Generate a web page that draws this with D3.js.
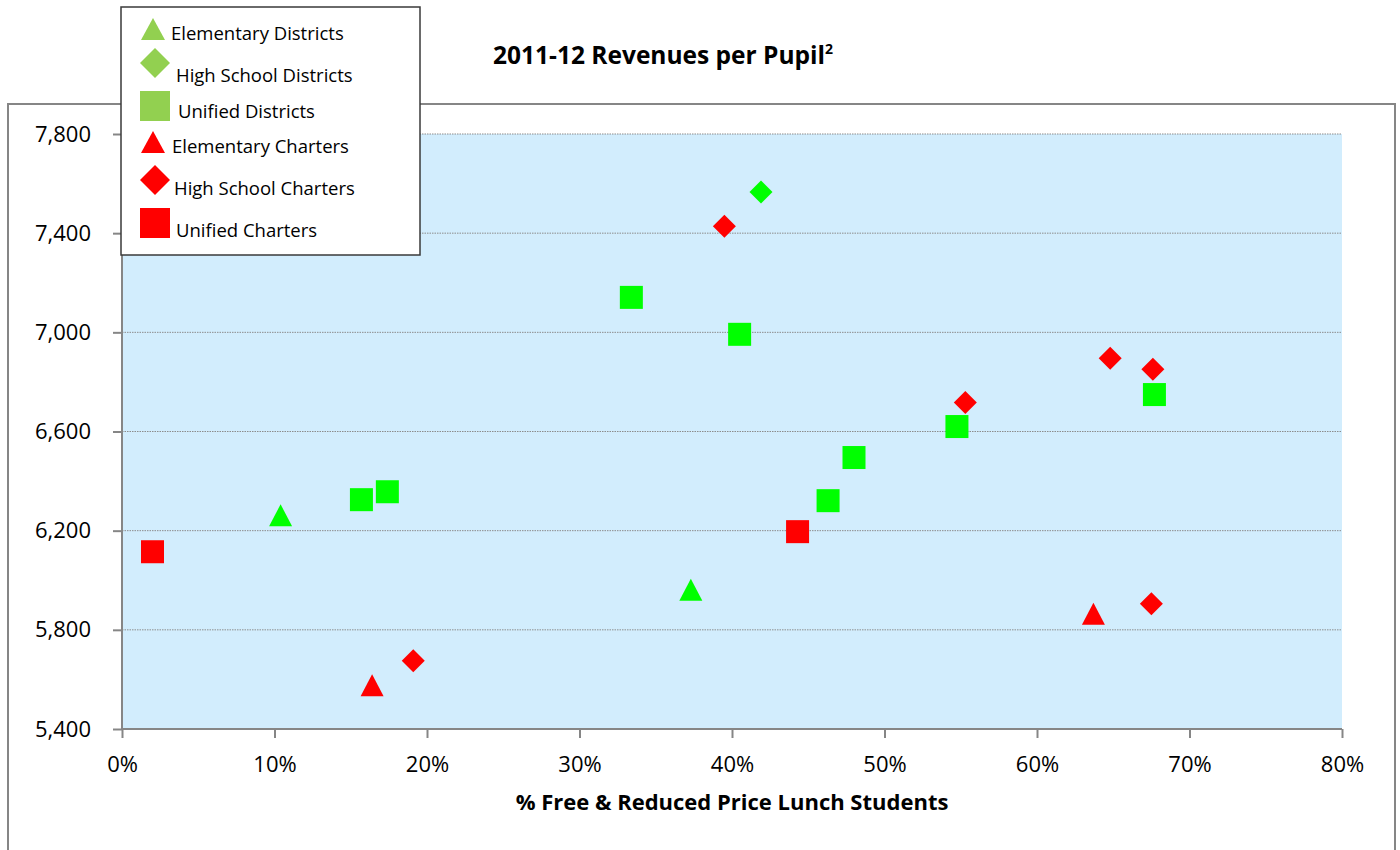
<!DOCTYPE html>
<html lang="en">
<head>
    <meta charset="UTF-8">
    <script src="https://d3js.org/d3.v7.min.js"></script>
    <title>2011-12 Revenues per Pupil</title>
    <style>
        html, body {
            margin: 0;
            padding: 0;
            background: white;
        }
        body {
            overflow: hidden;
        }
        text {
            font-family: "Open Sans", "Lato", sans-serif;
            fill: #000;
        }
        .legend text {
            font-size: 18.5px;
        }
    </style>
</head>
<body>
    <script>
        // series: [pct free/reduced lunch, revenue per pupil]
        const seriesNames = ["Elementary Districts", "High School Districts", "Unified Districts",
                             "Elementary Charters", "High School Charters", "Unified Charters"];

        const elemDistricts = [[10.4, 6258], [37.3, 5958]];
        const hsDistricts = [[41.9, 7566]];
        const unifiedDistricts = [[33.4, 7141], [40.5, 6992], [67.7, 6749], [54.75, 6620],
                                  [48.0, 6495], [46.3, 6321], [15.7, 6325], [17.4, 6357]];
        const elemCharters = [[16.4, 5572], [63.7, 5861]];
        const hsCharters = [[39.5, 7428], [64.8, 6895], [67.6, 6851], [55.3, 6717],
                            [67.5, 5905], [19.1, 5675]];
        const unifiedCharters = [[2.0, 6115], [44.3, 6196]];

        const xTicks = [0, 10, 20, 30, 40, 50, 60, 70, 80];
        const yTicks = [5400, 5800, 6200, 6600, 7000, 7400, 7800];

        const width = 1400, height = 850;
        const svg = d3.select('body').append('svg')
            .attr('width', width)
            .attr('height', height);

        const plot = { left: 122, right: 1342, top: 134, bottom: 729 };

        const x = d3.scaleLinear().domain([0, 80]).range([plot.left, plot.right]);
        const y = d3.scaleLinear().domain([5400, 7800]).range([plot.bottom, plot.top]);

        // outer chart frame
        svg.append('rect')
            .attr('x', 8).attr('y', 104)
            .attr('width', 1387).attr('height', 800)
            .attr('fill', 'white')
            .attr('stroke', '#868686')
            .attr('stroke-width', 2);

        // plot background
        svg.append('rect')
            .attr('x', plot.left).attr('y', plot.top)
            .attr('width', plot.right - plot.left)
            .attr('height', plot.bottom - plot.top)
            .attr('fill', '#d2edfd');

        // gridlines
        svg.append('g')
            .selectAll('line')
            .data(yTicks.slice(1))
            .join('line')
            .attr('x1', plot.left).attr('x2', plot.right)
            .attr('y1', d => y(d)).attr('y2', d => y(d))
            .attr('stroke', '#8c8c8c')
            .attr('stroke-width', 1)
            .attr('stroke-dasharray', '1.5,1');

        // axes
        const yAxis = svg.append('g')
            .attr('transform', `translate(${plot.left},0)`)
            .call(d3.axisLeft(y).tickValues(yTicks).tickFormat(d3.format(',')).tickSize(9).tickPadding(22));
        const xAxis = svg.append('g')
            .attr('transform', `translate(0,${plot.bottom})`)
            .call(d3.axisBottom(x).tickValues(xTicks).tickFormat(d => d + '%').tickSize(9).tickPadding(18));

        [yAxis, xAxis].forEach(ax => {
            ax.select('.domain').attr('stroke', '#868686').attr('stroke-width', 2);
            ax.selectAll('.tick line').attr('stroke', '#868686').attr('stroke-width', 2);
            ax.selectAll('.tick text').style('font-size', '22px');
        });
        xAxis.select('.domain').attr('d', `M${plot.left},0H${plot.right}`);
        yAxis.select('.domain').attr('d', `M0,${plot.top}V${plot.bottom}`);

        // markers
        const green = '#00ff00', red = '#ff0000';
        const drawSeries = (data, shape, color) => {
            const g = svg.append('g');
            if (shape === 'square') {
                g.selectAll('rect').data(data).join('rect')
                    .attr('x', d => x(d[0]) - 11.5)
                    .attr('y', d => y(d[1]) - 11.5)
                    .attr('width', 23).attr('height', 23)
                    .attr('fill', color);
            } else if (shape === 'diamond') {
                g.selectAll('path').data(data).join('path')
                    .attr('d', 'M0,-11.5L11.5,0L0,11.5L-11.5,0Z')
                    .attr('transform', d => `translate(${x(d[0])},${y(d[1])})`)
                    .attr('fill', color);
            } else {
                g.selectAll('path').data(data).join('path')
                    .attr('d', 'M0,-11L11.5,11L-11.5,11Z')
                    .attr('transform', d => `translate(${x(d[0])},${y(d[1]) - 1})`)
                    .attr('fill', color);
            }
        };

        drawSeries(unifiedDistricts, 'square', green);
        drawSeries(elemDistricts, 'triangle', green);
        drawSeries(hsDistricts, 'diamond', green);
        drawSeries(unifiedCharters, 'square', red);
        drawSeries(elemCharters, 'triangle', red);
        drawSeries(hsCharters, 'diamond', red);

        // title
        const title = svg.append('text')
            .attr('x', 493).attr('y', 64)
            .style('font-size', '24.5px')
            .style('font-weight', 'bold');
        title.append('tspan').text('2011-12 Revenues per Pupil');
        title.append('tspan').text('2').attr('dy', -10).style('font-size', '14px');

        // x axis title
        svg.append('text')
            .attr('x', 732).attr('y', 810)
            .attr('text-anchor', 'middle')
            .style('font-size', '22px')
            .style('font-weight', 'bold')
            .text('% Free & Reduced Price Lunch Students');

        // legend
        const legend = svg.append('g').attr('class', 'legend');
        legend.append('rect')
            .attr('x', 121).attr('y', 7)
            .attr('width', 299).attr('height', 248)
            .attr('fill', 'white')
            .attr('stroke', '#3a3a3a')
            .attr('stroke-width', 1.5);

        const legendGreen = '#92d050';
        const legendItems = [
            { shape: 'triangle', color: legendGreen, cy: 30, ty: 40, tx: 171, s: 12 },
            { shape: 'diamond', color: legendGreen, cy: 63, ty: 82, tx: 176, s: 15 },
            { shape: 'square', color: legendGreen, cy: 106, ty: 118, tx: 178, s: 15 },
            { shape: 'triangle', color: red, cy: 143, ty: 153, tx: 172, s: 12 },
            { shape: 'diamond', color: red, cy: 180, ty: 195, tx: 174, s: 15 },
            { shape: 'square', color: red, cy: 223, ty: 237, tx: 176, s: 15 }
        ];
        legendItems.forEach((it, i) => {
            const cx = 155;
            if (it.shape === 'square') {
                legend.append('rect')
                    .attr('x', cx - it.s).attr('y', it.cy - it.s)
                    .attr('width', it.s * 2).attr('height', it.s * 2)
                    .attr('fill', it.color);
            } else if (it.shape === 'diamond') {
                legend.append('path')
                    .attr('d', `M${cx},${it.cy - it.s}L${cx + it.s},${it.cy}L${cx},${it.cy + it.s}L${cx - it.s},${it.cy}Z`)
                    .attr('fill', it.color);
            } else {
                legend.append('path')
                    .attr('d', `M${cx - 2},${it.cy - 12}L${cx + 10},${it.cy + 10}L${cx - 14},${it.cy + 10}Z`)
                    .attr('fill', it.color);
            }
            legend.append('text')
                .attr('x', it.tx).attr('y', it.ty)
                .text(seriesNames[i]);
        });
    </script>
</body>
</html>
